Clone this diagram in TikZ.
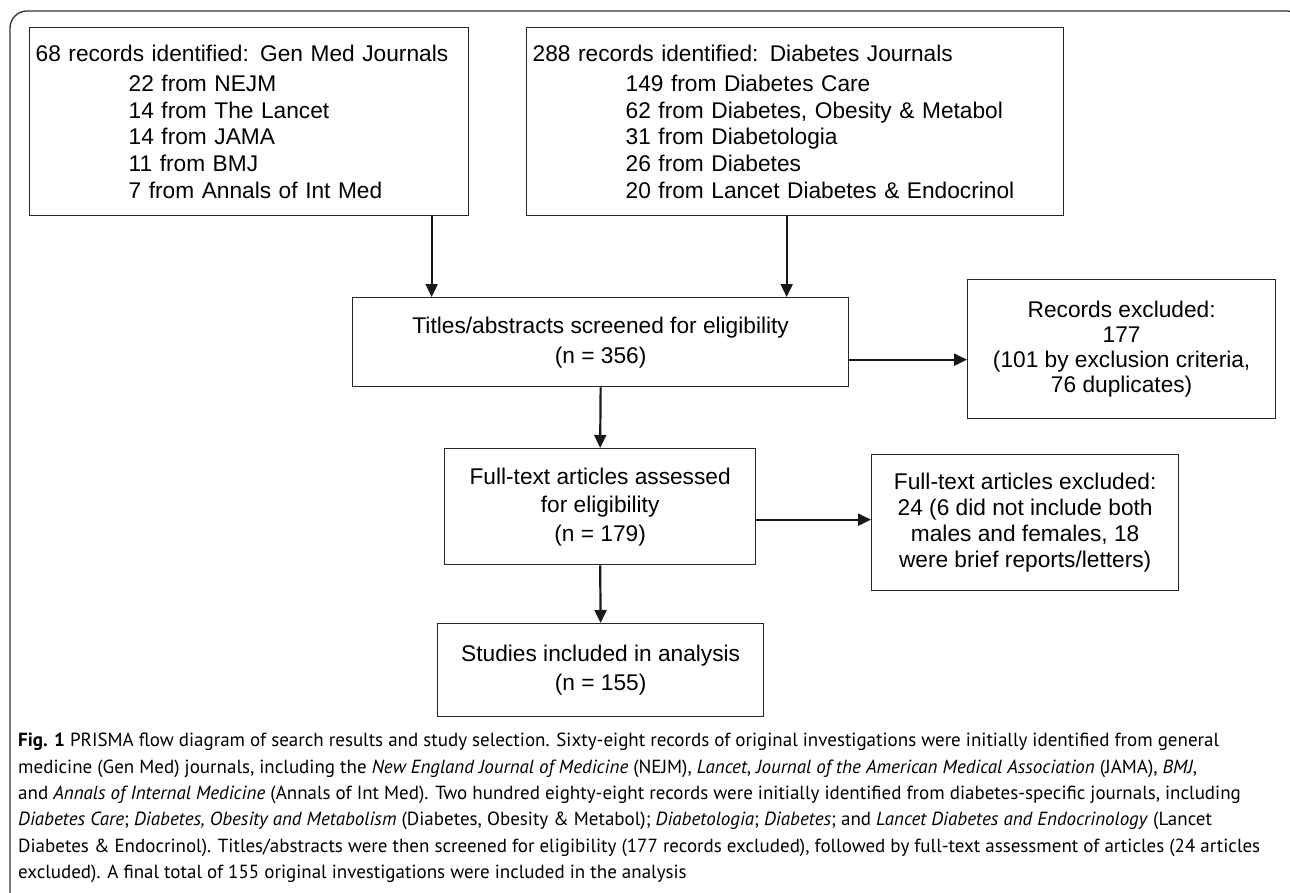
\documentclass[tikz,border=0pt]{standalone}
\usepackage{fontspec}
\setmainfont{Liberation Sans}
\newfontfamily\capfont{PT Sans}
\usetikzlibrary{arrows.meta}

\begin{document}
\begin{tikzpicture}[x=1pt,y=-1pt,
    box/.style={draw=black!85,line width=1.3pt,inner sep=0pt,anchor=north west,font=\fontsize{22.7}{26.7}\selectfont},
    flow/.style={draw=black!90,line width=2.2pt,-{Triangle[length=13pt,width=12pt]}}
  ]
  \useasboundingbox (0,0) rectangle (1290,892);
  \clip (0,0) rectangle (1290,892);
  \draw[black!80,line width=1.3pt,rounded corners=17pt] (10,11) rectangle (1304,910);

  \node[box,minimum width=439pt,minimum height=188pt,text width=427pt,align=left] (genmed) at (29,27)
    {68 records identified: Gen Med Journals\\[3.3pt]
     \hspace*{93pt}22 from NEJM\\
     \hspace*{93pt}14 from The Lancet\\
     \hspace*{93pt}14 from JAMA\\
     \hspace*{93pt}11 from BMJ\\
     \hspace*{93pt}7 from Annals of Int Med};
  \node[box,minimum width=537pt,minimum height=188pt,text width=525pt,align=left] (diab) at (526,27)
    {288 records identified: Diabetes Journals\\[3.3pt]
     \hspace*{93pt}149 from Diabetes Care\\
     \hspace*{93pt}62 from Diabetes, Obesity \& Metabol\\
     \hspace*{93pt}31 from Diabetologia\\
     \hspace*{93pt}26 from Diabetes\\
     \hspace*{93pt}20 from Lancet Diabetes \& Endocrinol};
  \node[box,minimum width=496pt,minimum height=89pt,align=center,font=\fontsize{22.7}{30}\selectfont] (screen) at (352,297)
    {Titles/abstracts screened for eligibility\\(n = 356)};
  \node[box,minimum width=308pt,minimum height=139pt,align=center,font=\fontsize{22.7}{25}\selectfont] (recexcl) at (967,279)
    {Records excluded:\\177\\(101 by exclusion criteria,\\76 duplicates)};
  \node[box,minimum width=311pt,minimum height=116pt,align=center,font=\fontsize{22.7}{28.5}\selectfont] (full) at (444,448)
    {Full-text articles assessed\\for eligibility\\(n = 179)};
  \node[box,minimum width=307pt,minimum height=136pt,align=center,font=\fontsize{22.7}{26}\selectfont] (fullexcl) at (871,454)
    {Full-text articles excluded:\\24 (6 did not include both\\males and females, 18\\were brief reports/letters)};
  \node[box,minimum width=326pt,minimum height=93pt,align=center,font=\fontsize{22.7}{29}\selectfont] (studies) at (437,623)
    {Studies included in analysis\\(n = 155)};

  \draw[flow] ([xshift=182.5pt]genmed.south) -- ([xshift=182.5pt]genmed.south |- screen.north);
  \draw[flow] ([xshift=-8.5pt]diab.south) -- ([xshift=-8.5pt]diab.south |- screen.north);
  \draw[flow] ([yshift=-17.5pt]screen.east) -- ([yshift=-17.5pt]screen.east -| recexcl.west);
  \draw[flow] (screen.south) -- (full.north);
  \draw[flow] ([yshift=-13pt]full.east) -- ([yshift=-13pt]full.east -| fullexcl.west);
  \draw[flow] (full.south) -- (studies.north);

  \node[anchor=north west,align=left,inner sep=0pt,font=\capfont\fontsize{19}{26.4}\selectfont] (caption) at (18,733)
    {\textbf{Fig. 1} PRISMA flow diagram of search results and study selection. Sixty-eight records of original investigations were initially identified from general\\
     medicine (Gen Med) journals, including the \textit{New England Journal of Medicine} (NEJM), \textit{Lancet}, \textit{Journal of the American Medical Association} (JAMA), \textit{BMJ},\\
     and \textit{Annals of Internal Medicine} (Annals of Int Med). Two hundred eighty-eight records were initially identified from diabetes-specific journals, including\\
     \textit{Diabetes Care}; \textit{Diabetes, Obesity and Metabolism} (Diabetes, Obesity \& Metabol); \textit{Diabetologia}; \textit{Diabetes}; and \textit{Lancet Diabetes and Endocrinology} (Lancet\\
     Diabetes \& Endocrinol). Titles/abstracts were then screened for eligibility (177 records excluded), followed by full-text assessment of articles (24 articles\\
     excluded). A final total of 155 original investigations were included in the analysis};
\end{tikzpicture}
\end{document}
